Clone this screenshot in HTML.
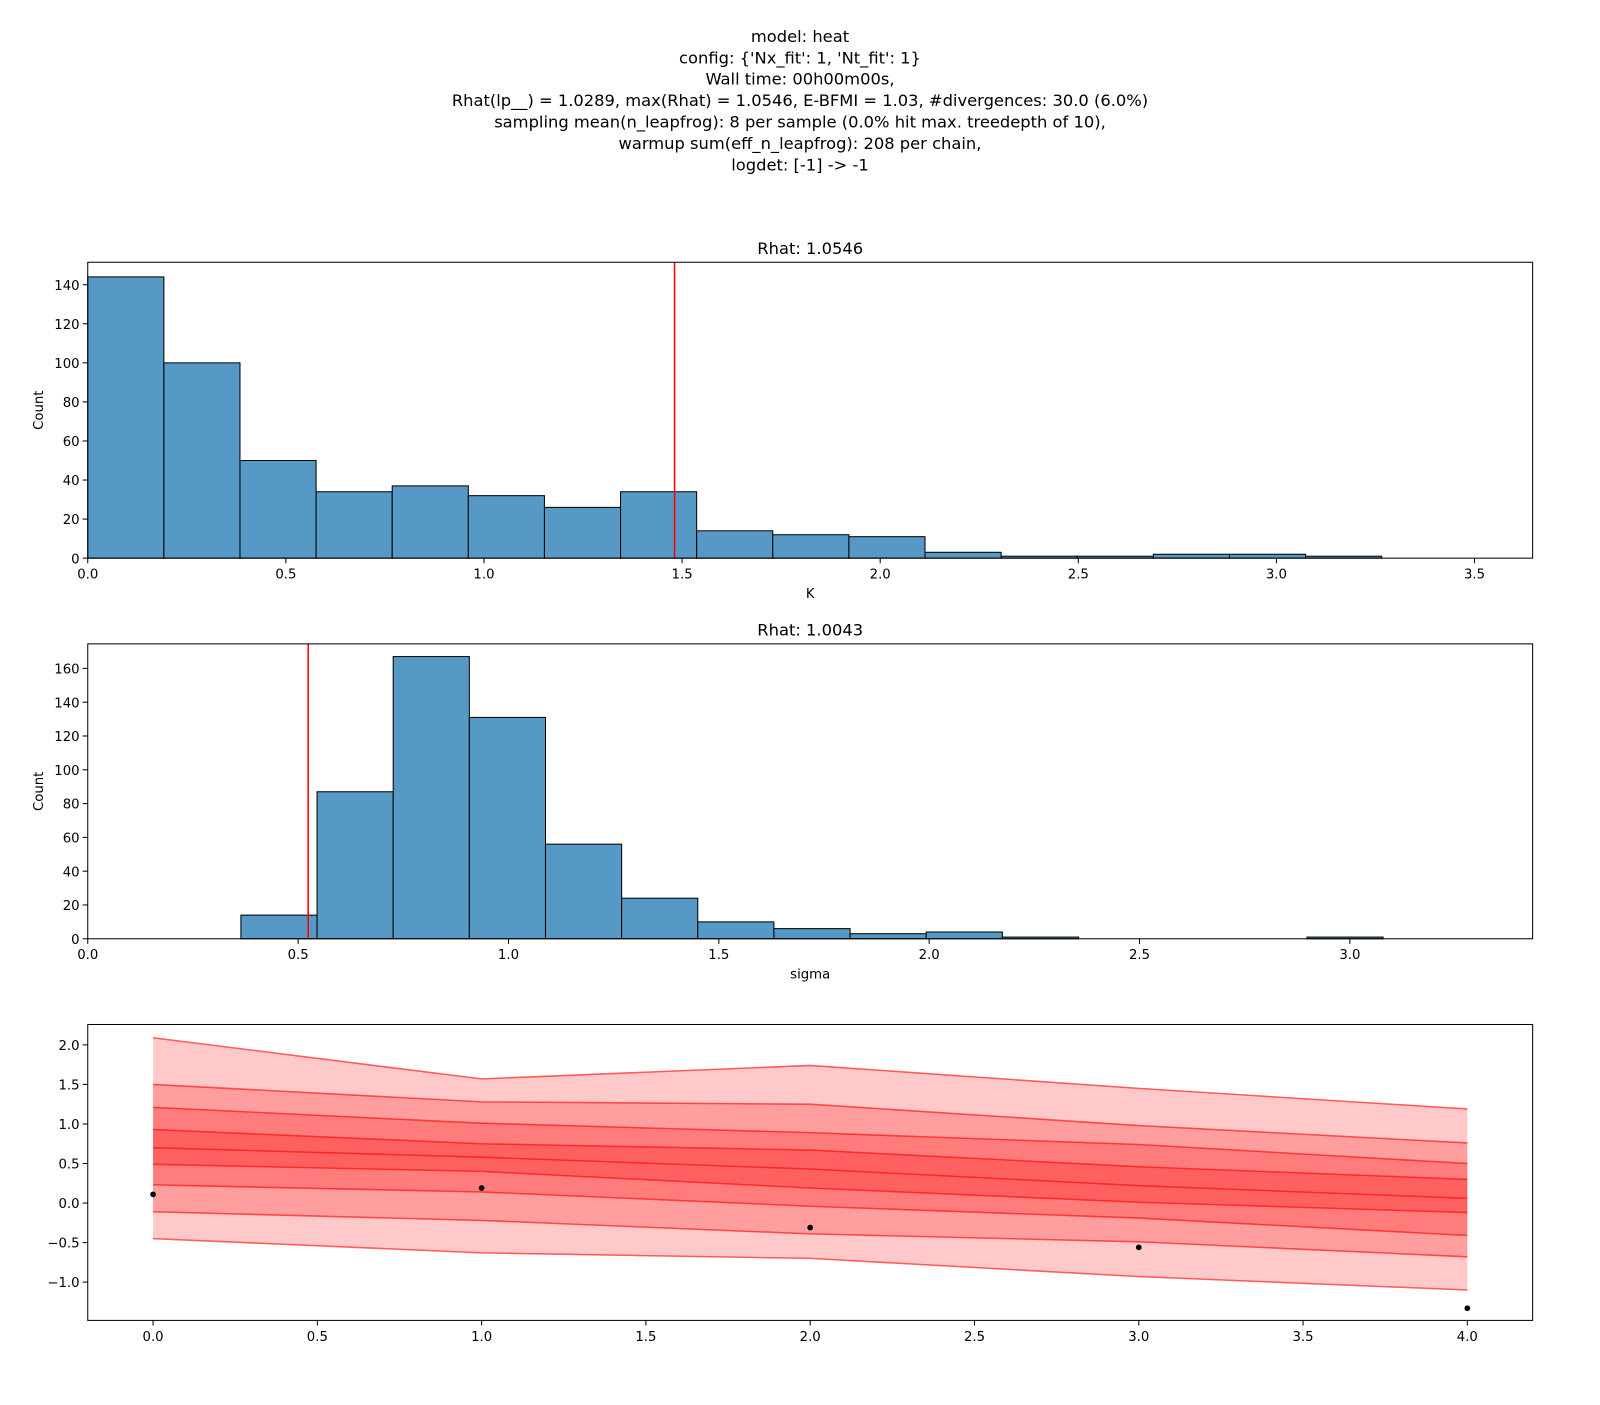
<!DOCTYPE html>
<html><head><meta charset="utf-8"><style>
body{margin:0;background:#fff;}
svg{font-family:"DejaVu Sans","Liberation Sans",sans-serif;}
</style></head><body>
<svg id="fig" width="1600" height="1400" viewBox="0 0 1600 1400" xmlns="http://www.w3.org/2000/svg">
<g transform="scale(1.0204)">
<g font-size="16" text-anchor="middle" fill="#000">
<text x="784" y="41">model: heat</text>
<text x="784" y="62">config: {'Nx_fit': 1, 'Nt_fit': 1}</text>
<text x="784" y="83">Wall time: 00h00m00s,</text>
<text x="784" y="104">Rhat(lp__) = 1.0289, max(Rhat) = 1.0546, E-BFMI = 1.03, #divergences: 30.0 (6.0%)</text>
<text x="784" y="125">sampling mean(n_leapfrog): 8 per sample (0.0% hit max. treedepth of 10),</text>
<text x="784" y="146">warmup sum(eff_n_leapfrog): 208 per chain,</text>
<text x="784" y="167">logdet: [-1] -> -1</text>
</g>
<g id="p1"></g>
<g id="p2"></g>
<g id="p3"></g>
</g>
</svg>
<script>
const kCounts=[144,100,50,34,37,32,26,34,14,12,11,3,1,1,2,2,1];
const kStart=0, kWidth=0.1921, kRhatLine=1.481;
const kXTicks=[0,0.5,1.0,1.5,2.0,2.5,3.0,3.5];
const kYTicks=[0,20,40,60,80,100,120,140];
const sCounts=[14,87,167,131,56,24,10,6,3,4,1,0,0,0,1];
const sStart=0.364, sWidth=0.181, sRhatLine=0.524;
const sXTicks=[0,0.5,1.0,1.5,2.0,2.5,3.0];
const sYTicks=[0,20,40,60,80,100,120,140,160];
const qX=[0,1,2,3,4];
const q0=[2.09,1.57,1.74,1.45,1.19];
const q1=[1.50,1.28,1.25,0.98,0.76];
const q2=[1.21,1.01,0.89,0.74,0.50];
const q3=[0.93,0.75,0.67,0.46,0.30];
const q4=[0.70,0.58,0.43,0.22,0.06];
const q5=[0.49,0.40,0.19,0.01,-0.12];
const q6=[0.23,0.14,-0.04,-0.19,-0.41];
const q7=[-0.11,-0.22,-0.39,-0.49,-0.68];
const q8=[-0.45,-0.63,-0.70,-0.93,-1.10];
const obsY=[0.11,0.19,-0.31,-0.56,-1.33];
const p3XTicks=[0,0.5,1.0,1.5,2.0,2.5,3.0,3.5,4.0];
const p3YTicks=[-1.0,-0.5,0,0.5,1.0,1.5,2.0];

const NS='http://www.w3.org/2000/svg';
function mk(parent,tag,attrs,text){const e=document.createElementNS(NS,tag);for(const k in attrs)e.setAttribute(k,attrs[k]);if(text!==undefined)e.textContent=text;parent.appendChild(e);return e;}
function fmt(v,d){return v.toFixed(d);}
function axes(g,L,T,R,B,sx,sy,xt,yt,xd,yd,xlabel,ylabel,title){
  for(const t of xt){const x=sx(t);
    const l=mk(g,'line',{x1:x,x2:x,y1:B,y2:B+5,stroke:'#000','stroke-width':1});
    
    
    const tx=mk(g,'text',{x:x,y:B+20,'font-size':13,'text-anchor':'middle'},fmt(t,xd));
    
    }
  for(const t of yt){const y=sy(t);
    const l=mk(g,'line',{x1:L-5,x2:L,y1:y,y2:y,stroke:'#000','stroke-width':1});
    
    
    const tx=mk(g,'text',{x:L-8,y:y+5,'font-size':13,'text-anchor':'end'},(yd===0?String(t):fmt(t,yd)).replace('-','\u2212'));
    
    }
  const f=mk(g,'rect',{x:L,y:T,width:R-L,height:B-T,fill:'none',stroke:'#000','stroke-width':1});
  
  
  if(xlabel){const e=mk(g,'text',{x:(L+R)/2,y:B+39,'font-size':13,'text-anchor':'middle'},xlabel);
    
    }
  if(ylabel){const e=mk(g,'text',{x:0,y:0,'font-size':13,'text-anchor':'middle',transform:`translate(42,${(T+B)/2}) rotate(-90)`},ylabel);
    
    }
  if(title){const e=mk(g,'text',{x:(L+R)/2,y:T-8,'font-size':16,'text-anchor':'middle'},title);
    
    }
}
function hist(g,L,T,R,B,x0,pxPerX,y0,pxPerY,counts,start,width,rline,xt,yt,xlabel,title){
  const sx=v=>L+(v-x0)*pxPerX, sy=v=>B-(v-y0)*pxPerY;
  counts.forEach((c,i)=>{const xa=sx(start+i*width),xb=sx(start+(i+1)*width);
    const r=mk(g,'rect',{x:xa,y:sy(c),width:xb-xa,height:B-sy(c),fill:'#5799c6',stroke:'#000','stroke-width':1});
    
    });
  const rl=mk(g,'line',{x1:sx(rline),x2:sx(rline),y1:T,y2:B,stroke:'#ff0000','stroke-width':1.5});
  
  
  axes(g,L,T,R,B,sx,sy,xt,yt,1,0,xlabel,'Count',title);
}
hist(document.getElementById('p1'),86,257,1502,547,0,388.3,0,1.914,kCounts,kStart,kWidth,kRhatLine,kXTicks,kYTicks,'K','Rhat: 1.0546');
hist(document.getElementById('p2'),86,631,1502,920,0,412.3,0,1.656,sCounts,sStart,sWidth,sRhatLine,sXTicks,sYTicks,'sigma','Rhat: 1.0043');

(function(){
  const g=document.getElementById('p3');const L=86,T=1004,R=1502,B=1294;
  const sx=v=>150+v*322, sy=v=>1179-v*77.5;
  const qs=[q0,q1,q2,q3,q4,q5,q6,q7,q8];
  for(let k=0;k<4;k++){const top=qs[k],bot=qs[8-k];
    let d='M'+qX.map((x,i)=>sx(x)+','+sy(top[i])).join(' L')+' L'+qX.slice().reverse().map((x,j)=>{const i=qX.length-1-j;return sx(x)+','+sy(bot[i]);}).join(' L')+' Z';
    const p=mk(g,'path',{d:d,fill:'#ff0000','fill-opacity':0.21,stroke:'none'});
    
    }
  qs.forEach(q=>{const p=mk(g,'polyline',{points:qX.map((x,i)=>sx(x)+','+sy(q[i])).join(' '),fill:'none',stroke:'#ff0000','stroke-opacity':0.6,'stroke-width':1.5});
    
    });
  obsY.forEach((v,i)=>{const c=mk(g,'circle',{cx:sx(qX[i]),cy:sy(v),r:2.8,fill:'#000'});
    
    });
  axes(g,L,T,R,B,sx,sy,p3XTicks,p3YTicks,1,1,null,null,null);
})();
</script>
</body></html>
